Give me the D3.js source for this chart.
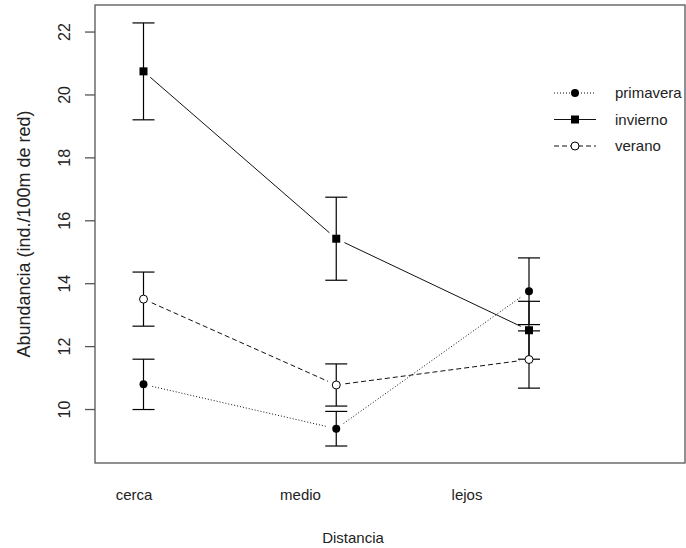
<!doctype html>
<html>
<head>
<meta charset="utf-8">
<script src="https://cdn.jsdelivr.net/npm/d3@7"></script>
<style>
  body { margin: 0; background: #fff; }
  svg { display: block; font-family: "Liberation Sans", Arial, sans-serif; }
  .tick-label, .cat-label, .axis-title, .legend text { fill: #222; font-size: 15px; }
  .tick-label { font-size: 16px; }
  .y-title { font-size: 18px; }
</style>
</head>
<body>
<svg id="chart"></svg>
<script>
const categories = ["cerca", "medio", "lejos"]
const seasons = ["primavera", "invierno", "verano"]
// means and standard errors per season
const primaveraMean = [10.80, 9.39, 13.76]
const primaveraSe   = [0.80, 0.55, 1.06]
const inviernoMean  = [20.75, 15.43, 12.52]
const inviernoSe    = [1.54, 1.32, 0.92]
const veranoMean    = [13.51, 10.78, 11.59]
const veranoSe      = [0.86, 0.67, 0.91]
const yTicks = [10, 12, 14, 16, 18, 20, 22]

const series = [
  { name: "primavera", mean: primaveraMean, se: primaveraSe, dash: "1,2", marker: "dot" },
  { name: "invierno", mean: inviernoMean, se: inviernoSe, dash: null, marker: "square" },
  { name: "verano", mean: veranoMean, se: veranoSe, dash: "5,3", marker: "open" }
]

const width = 686, height = 548
const plot = { left: 95, right: 685, top: 5, bottom: 463 }

const svg = d3.select("#chart").attr("width", width).attr("height", height)

const y = d3.scaleLinear().domain([8.30, 22.86]).range([plot.bottom, plot.top])
const xPoint = d3.scalePoint().domain(categories).range([143.5, 529])
const xLabel = d3.scalePoint().domain(categories).range([134, 467])

// box
svg.append("rect")
  .attr("x", plot.left).attr("y", plot.top)
  .attr("width", plot.right - plot.left).attr("height", plot.bottom - plot.top)
  .attr("fill", "none").attr("stroke", "#555").attr("stroke-width", 1.3)

// y axis
const yAxis = svg.append("g")
yAxis.selectAll("line").data(yTicks).enter().append("line")
  .attr("x1", plot.left - 10).attr("x2", plot.left)
  .attr("y1", d => y(d)).attr("y2", d => y(d))
  .attr("stroke", "#555").attr("stroke-width", 1.3)
yAxis.selectAll("text").data(yTicks).enter().append("text")
  .attr("class", "tick-label")
  .attr("transform", d => "translate(70," + y(d) + ") rotate(-90)")
  .attr("text-anchor", "middle")
  .text(d => d)

svg.append("text")
  .attr("class", "axis-title y-title")
  .attr("transform", "translate(30," + ((plot.top + plot.bottom) / 2) + ") rotate(-90)")
  .attr("text-anchor", "middle")
  .text("Abundancia (ind./100m de red)")

// category labels
svg.selectAll(".cat-label").data(categories).enter().append("text")
  .attr("class", "cat-label")
  .attr("x", d => xLabel(d)).attr("y", 500)
  .attr("text-anchor", "middle")
  .text(d => d)

svg.append("text")
  .attr("class", "axis-title")
  .attr("x", 353).attr("y", 543)
  .attr("text-anchor", "middle")
  .text("Distancia")

// connecting lines with gaps around points (type = "b")
const gap = 9
series.forEach(s => {
  const pts = categories.map((c, i) => [xPoint(c), y(s.mean[i])])
  for (let i = 0; i < pts.length - 1; i++) {
    const [x1, y1] = pts[i], [x2, y2] = pts[i + 1]
    const len = Math.hypot(x2 - x1, y2 - y1)
    const ux = (x2 - x1) / len, uy = (y2 - y1) / len
    svg.append("line")
      .attr("x1", x1 + ux * gap).attr("y1", y1 + uy * gap)
      .attr("x2", x2 - ux * gap).attr("y2", y2 - uy * gap)
      .attr("stroke", "#111").attr("stroke-width", 1)
      .attr("stroke-dasharray", s.dash)
  }
})

// error bars
series.forEach(s => {
  const g = svg.append("g")
  categories.forEach((c, i) => {
    const cx = xPoint(c)
    const lo = y(s.mean[i] - s.se[i]), hi = y(s.mean[i] + s.se[i])
    g.append("line").attr("x1", cx).attr("x2", cx).attr("y1", lo).attr("y2", hi)
      .attr("stroke", "#000").attr("stroke-width", 1.2)
    ;[lo, hi].forEach(yy => {
      g.append("line").attr("x1", cx - 11).attr("x2", cx + 11).attr("y1", yy).attr("y2", yy)
        .attr("stroke", "#000").attr("stroke-width", 1.2)
    })
  })
})

function drawMarker(g, type, cx, cy) {
  if (type === "square") {
    g.append("rect").attr("x", cx - 4).attr("y", cy - 4).attr("width", 8).attr("height", 8)
      .attr("fill", "#000")
  } else if (type === "dot") {
    g.append("circle").attr("cx", cx).attr("cy", cy).attr("r", 4).attr("fill", "#000")
  } else {
    g.append("circle").attr("cx", cx).attr("cy", cy).attr("r", 4)
      .attr("fill", "#fff").attr("stroke", "#000").attr("stroke-width", 1)
  }
}

// markers
series.forEach(s => {
  const g = svg.append("g")
  categories.forEach((c, i) => drawMarker(g, s.marker, xPoint(c), y(s.mean[i])))
})

// legend
const legend = svg.append("g").attr("class", "legend")
series.forEach((s, i) => {
  const ly = 93 + i * 26.5
  legend.append("line")
    .attr("x1", 554).attr("x2", 596).attr("y1", ly).attr("y2", ly)
    .attr("stroke", "#111").attr("stroke-width", 1)
    .attr("stroke-dasharray", s.dash)
  drawMarker(legend, s.marker, 575, ly)
  legend.append("text").attr("x", 615).attr("y", ly + 5).text(s.name)
})
</script>
</body>
</html>
